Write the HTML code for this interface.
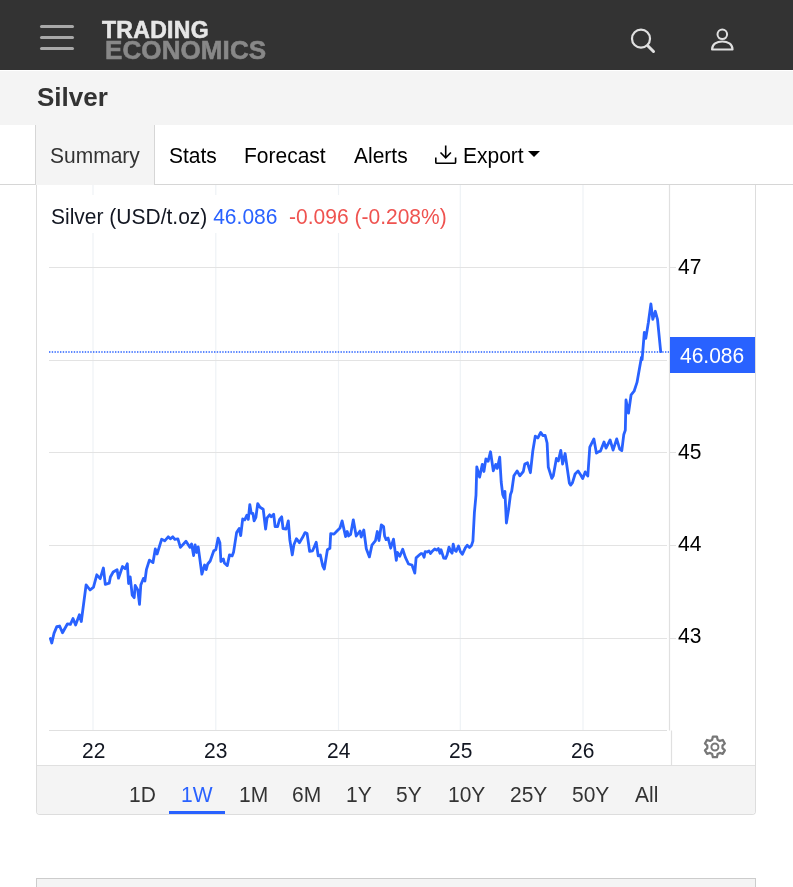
<!DOCTYPE html>
<html><head><meta charset="utf-8">
<style>
*{box-sizing:border-box;margin:0;padding:0}
html,body{width:793px;height:887px;overflow:hidden;background:#fff;font-family:"Liberation Sans",sans-serif;position:relative}
.abs{position:absolute}
.t,.bt,.yl,.xl{will-change:transform}
.sy{transform:scaleY(1.06);transform-origin:0 17.8px}
#hdr{position:absolute;left:0;top:0;width:793px;height:70px;background:#333}
#ttl{position:absolute;left:0;top:70px;width:793px;height:55px;background:#f4f4f4;border-top:1px solid #fff}
#tabs{position:absolute;left:0;top:125px;width:793px;height:60px;background:#fff;border-bottom:1px solid #d6d6d6}
.t{position:absolute;font-size:21px;line-height:21px;color:#000;white-space:nowrap}
#box{position:absolute;left:36px;top:185px;width:720px;height:630px;border:1px solid #ddd;border-top:none;border-radius:0 0 4px 4px;background:#fff;overflow:hidden}
#bar{position:absolute;left:0;top:580px;width:718px;height:49px;background:#f4f4f4;border-top:1px solid #e0e0e0}
#box2{position:absolute;left:36px;top:878px;width:720px;height:20px;background:#f4f4f4;border:1px solid #ccc}
#chart{position:absolute;left:0;top:0}
.bt{position:absolute;top:784px;font-size:21px;line-height:21px;color:#333;white-space:nowrap}
.yl{position:absolute;left:678px;font-size:21px;line-height:21px;color:#000}
.xl{position:absolute;top:740px;font-size:21px;line-height:21px;color:#131722}
</style></head><body>
<div id="hdr">
  <div class="abs" style="left:40px;top:25px;width:34px;height:3px;border-radius:2px;background:#a8a8a8"></div>
  <div class="abs" style="left:40px;top:36px;width:34px;height:3px;border-radius:2px;background:#a8a8a8"></div>
  <div class="abs" style="left:40px;top:47px;width:34px;height:3px;border-radius:2px;background:#a8a8a8"></div>
  <div class="t" style="left:102px;top:19px;font-size:23px;line-height:23px;font-weight:700;letter-spacing:0.3px;color:#e6e6e6;-webkit-text-stroke:0.6px #e6e6e6">TRADING</div>
  <div class="t" style="left:105px;top:36.6px;font-size:26px;line-height:26px;font-weight:700;letter-spacing:0.1px;color:#888;-webkit-text-stroke:0.6px #888">ECONOMICS</div>
  <svg class="abs" style="left:625px;top:22px" width="40" height="40" viewBox="0 0 40 40">
    <circle cx="16" cy="16.7" r="9" fill="none" stroke="#e0e0e0" stroke-width="2.2"/>
    <line x1="23" y1="24" x2="28.5" y2="29.5" stroke="#e0e0e0" stroke-width="3" stroke-linecap="round"/>
  </svg>
  <svg class="abs" style="left:702px;top:20px" width="40" height="40" viewBox="0 0 40 40">
    <circle cx="20.3" cy="14.3" r="4.8" fill="none" stroke="#e0e0e0" stroke-width="2"/>
    <path d="M10 29.5 C10 24 15 21.5 20.3 21.5 C25.6 21.5 30.6 24 30.6 29.5 Z" fill="none" stroke="#e0e0e0" stroke-width="2" stroke-linejoin="round"/>
  </svg>
</div>
<div id="ttl">
  <div class="t" style="left:37px;top:13px;font-size:26px;line-height:26px;font-weight:700;color:#333">Silver</div>
</div>
<div id="tabs">
  <div class="abs" style="left:35px;top:0;width:120px;height:60px;background:#f4f4f4;border-left:1px solid #d6d6d6;border-right:1px solid #d6d6d6"></div>
  <div class="t sy" style="left:50px;top:19.6px;color:#333">Summary</div>
  <div class="t sy" style="left:168.5px;top:19.6px">Stats</div>
  <div class="t sy" style="left:244.3px;top:19.6px">Forecast</div>
  <div class="t sy" style="left:354.3px;top:19.6px">Alerts</div>
  <svg class="abs" style="left:433px;top:18px" width="26" height="24" viewBox="0 0 26 24">
    <path d="M12.7 2.5 V14.5 M7.5 9.5 L12.7 14.8 L17.9 9.5" fill="none" stroke="#000" stroke-width="1.6"/>
    <path d="M2.8 14.5 V19.2 Q2.8 20.3 3.9 20.3 H21.5 Q22.6 20.3 22.6 19.2 V14.5" fill="none" stroke="#000" stroke-width="1.6"/>
  </svg>
  <div class="t sy" style="left:462.5px;top:19.6px">Export</div>
  <svg class="abs" style="left:528px;top:26px" width="12" height="6" viewBox="0 0 12 6"><path d="M0 0 H12 L6 6 Z" fill="#000"/></svg>
</div>
<div id="box">
  <div id="bar"></div>
</div>
<svg id="chart" width="793" height="887" viewBox="0 0 793 887">
  <g stroke="#eef2f6" stroke-width="1.2" fill="none">
    <path d="M93 185V730 M215.8 185V730 M338.5 185V730 M460.3 185V730 M583 185V730"/>
  </g>
  <g stroke="#e3e3e3" stroke-width="1.2" fill="none">
    <path d="M49 267.5H667 M49 360.5H667 M49 452.5H667 M49 545.5H667 M49 638.5H667"/>
    <path d="M670 267.5H676 M670 452.5H676 M670 545.5H676 M670 638.5H676"/>
  </g>
  <rect x="49" y="195" width="400" height="38" fill="#fff"/>
  <g stroke="#e0e0e0" stroke-width="1.2" fill="none">
    <path d="M669.5 185V730.5 M49 730.5H667 M671.5 730.5V765"/>
  </g>
  <path d="M49 352H669" stroke="#2962ff" stroke-width="1.4" stroke-dasharray="1.4 1.35" fill="none"/>
  <polyline points="50.4,638.5 51.8,643 54,633.4 56.8,626.6 59.6,626 62.5,632.8 67.5,623.8 70.4,624.4 73,618.5 75.6,625 79.4,614.8 81.3,621.5 86.1,584.9 90.1,590 93.5,587.2 96.8,574.8 100.2,578.7 103.4,568 105.3,584.4 109.2,583.2 110.4,577 113.2,572 117.1,569.7 118.5,578.2 122.5,566.5 125.1,568.7 127.3,563.7 128.6,583.5 130.2,576.9 132.2,595.1 134.2,597.7 135.2,585.5 137.8,590 139.5,604.3 140.8,585 143.4,578.4 144.9,581 146.4,569.7 149.4,560.1 153,562.6 155.3,548.9 157.1,554 161.6,539.3 164.7,540.8 168.2,536.8 170.3,538.8 172.8,536.8 174.8,539.3 177.9,538.8 180.4,547.4 186,541.3 190,547.4 191.6,543.9 193.6,555.5 195.1,544.9 196.7,552.5 198.2,546.9 201.9,574.2 204.6,565 206.2,569.6 207.7,564 210.2,561 213.8,550.8 215.8,549.8 218.1,538.1 219.9,542.7 220.9,561.5 223.4,559 224.4,563 227.3,565.6 229.5,554.9 232.1,555.9 233.6,551.9 236.6,532.6 239.2,528.5 240.7,535.6 242.7,518.9 244.7,519.9 246.8,515.3 248.3,519.4 249.8,504.6 251.3,513.3 252.9,513.3 254.1,520.9 255.9,517.3 257.7,503.6 260,507.2 263.2,509.2 265.6,529 267.1,517.8 269.6,514.8 271.3,516.8 273.7,514.3 275.1,526.5 277.6,526.5 279.6,519.4 281.7,516.8 283,528.5 286.2,529 288.3,520.9 289.8,539.7 292.3,554.9 293.9,544.7 296.4,538.7 299.4,542.7 302.5,537.6 305,532.6 307.1,533.6 309.6,551.3 312.6,550.8 316.2,542.2 318.2,555.9 320.3,554.9 322.8,566.1 324.3,569.1 327.4,549.8 329.9,548.3 330.7,533.6 334,534.1 336.5,531.5 340,528 342.1,520.9 345.6,536.6 347.2,531.5 348.6,536 350.6,534.5 353.3,519.8 356.2,536 360,531 361.2,537.1 363.8,530 366.3,548.7 369.4,556.9 371.9,545.2 375.5,540.6 377.3,531.5 379,540.6 381.3,524.9 383.6,526.7 384.6,536 386.1,539.6 388.1,538.1 390.7,548.2 393.5,539.1 396.3,560.4 397.3,552.3 399.8,556.3 402.7,549.2 405.4,557.4 408.5,564 412,565 414.8,573.1 416.1,557.9 420.1,554.3 421.1,553.5 422.6,553.9 424.1,557.3 425.2,551.6 427.1,552 429,550.9 430.5,553.5 432,551.6 434.7,549 436.6,550.1 438.4,548.6 440,553.2 441.1,549.8 443.7,558.1 445.6,558.4 447.1,555 449,547.1 450.6,551.3 452.1,553.2 453.2,544.1 454.7,550.1 456.2,551.3 458.5,546 460.4,551.6 462.3,554.3 465.3,547.9 467.2,545.2 469.5,547.5 471.4,545.6 472.9,541.1 474.4,512.6 476,495.2 476.8,466.8 479.6,477.1 482.3,464.4 483.9,471.5 485.9,458.9 488.1,461.3 490.5,451.8 493.3,470.8 495.7,464.4 497.3,468.4 499.7,457.2 501.2,482 502.7,494.4 503.9,497.5 504.9,491.3 506.4,523 508.6,509.3 510.5,494.4 511.7,491.3 513.9,475.8 517.1,470.9 519.8,475.8 523.3,471.5 524.8,464 527.5,462.8 530.4,472.7 532.8,451 535.3,436.1 537.8,438 540.7,432.4 542.8,435.5 545.2,435.5 547.1,443 548.3,467.1 551.8,478.3 553.3,475.8 556.4,458.5 558.3,460.9 560.8,450.4 562.6,464 565.1,453.5 569.4,483.3 570.7,485.1 572.5,482.7 575.1,474 578.1,470.9 580.7,475 582.7,478.5 585.2,471.9 587.8,476 589.8,447.1 593.9,438.9 596.4,453.1 598.9,451.6 600.5,451.1 604,442 606,448.1 610.1,440 613.1,450.1 616.7,438.9 619.7,449.1 621.8,450.6 623.8,434.4 625.3,430.3 626,400 628.5,413.2 631.1,394.8 634.1,391.2 637,382.4 641.4,357.4 642.1,359.6 644.3,332.5 645.8,338.4 648.4,322.3 650.9,303.9 652.8,319.3 655.3,311.3 657.5,319.3 660.7,351.6" fill="none" stroke="#2962ff" stroke-width="2.8" stroke-linejoin="round" stroke-linecap="round"/>
  <rect x="670" y="337" width="85" height="36" fill="#2962ff"/>
  <path d="M712.14 739.71 L712.90 736.59 L716.90 736.59 L717.66 739.71 L719.75 740.92 L722.82 740.01 L724.83 743.48 L722.51 745.70 L722.51 748.10 L724.83 750.32 L722.82 753.79 L719.75 752.88 L717.66 754.09 L716.90 757.21 L712.90 757.21 L712.14 754.09 L710.05 752.88 L706.98 753.79 L704.97 750.32 L707.29 748.10 L707.29 745.70 L704.97 743.48 L706.98 740.01 L710.05 740.92 Z" fill="none" stroke="#777" stroke-width="2.3" stroke-linejoin="round"/>
  <circle cx="714.9" cy="747" r="3.5" fill="none" stroke="#777" stroke-width="2"/>
</svg>
<div class="t sy" style="left:51.4px;top:206px;color:#131722">Silver (USD/t.oz) <span style="color:#2962ff">46.086</span>&nbsp; <span style="color:#ef5350">-0.096 (-0.208%)</span></div>
<div class="yl sy" style="top:255.5px">47</div>
<div class="yl sy" style="top:440.5px">45</div>
<div class="yl sy" style="top:532.5px">44</div>
<div class="yl sy" style="top:624.5px">43</div>
<div class="yl sy" style="left:680px;top:344.5px;color:#fff">46.086</div>
<div class="xl sy" style="left:82px">22</div>
<div class="xl sy" style="left:204px">23</div>
<div class="xl sy" style="left:327px">24</div>
<div class="xl sy" style="left:449px">25</div>
<div class="xl sy" style="left:571px">26</div>
<div class="bt sy" style="left:129px">1D</div>
<div class="bt sy" style="left:180.7px;color:#2962ff">1W</div>
<div class="abs" style="left:169px;top:811px;width:56px;height:3px;background:#2962ff"></div>
<div class="bt sy" style="left:238.5px">1M</div>
<div class="bt sy" style="left:292.3px">6M</div>
<div class="bt sy" style="left:346px">1Y</div>
<div class="bt sy" style="left:396px">5Y</div>
<div class="bt sy" style="left:447.6px">10Y</div>
<div class="bt sy" style="left:510.3px">25Y</div>
<div class="bt sy" style="left:571.8px">50Y</div>
<div class="bt sy" style="left:634.5px">All</div>
<div id="box2"></div>
</body></html>
